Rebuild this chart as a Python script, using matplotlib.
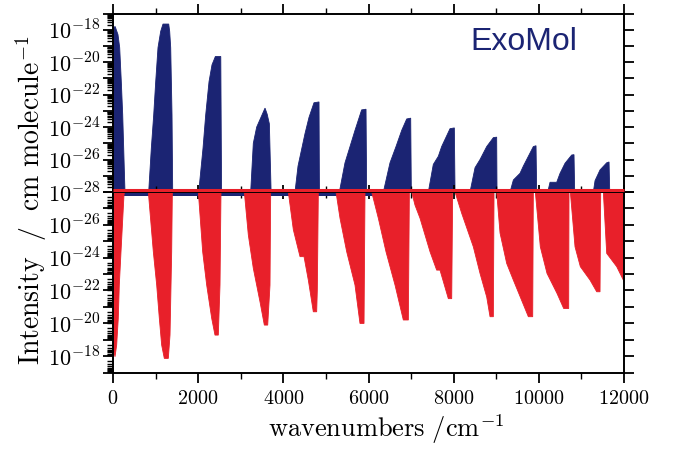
import numpy as np
import matplotlib
matplotlib.use("Agg")
import matplotlib.pyplot as plt
from matplotlib.ticker import FixedLocator, LogLocator, NullFormatter, FuncFormatter, MultipleLocator

plt.rcParams['mathtext.fontset'] = 'cm'

# ---------------- data: band envelopes (wavenumber, log10 intensity) ----------------
# top panel: ExoMol (blue)
exomol_x = [
    [0, 0, 50, 117, 157, 195, 228, 251, 274, 282],
    [838, 900, 956, 1003, 1057, 1120, 1174, 1308, 1331, 1355, 1386, 1402],
    [2013, 2114, 2177, 2255, 2325, 2404, 2531, 2550],
    [3233, 3295, 3374, 3570, 3620, 3672, 3713],
    [4274, 4345, 4509, 4603, 4720, 4838, 4848],
    [5316, 5448, 5566, 5683, 5839, 5942, 5957],
    [6349, 6505, 6646, 6780, 6897, 6991, 7006],
    [7405, 7522, 7640, 7718, 7914, 8016, 8032],
    [8384, 8502, 8619, 8776, 8932, 9010, 9018],
    [9324, 9402, 9558, 9637, 9715, 9871, 9934, 9950],
    [10209, 10263, 10420, 10498, 10615, 10772, 10826, 10842],
    [11085, 11085, 11203, 11203],
    [11280, 11320, 11437, 11594, 11649, 11665],
]
exomol_logI = [
    [-28, -17.9, -17.8, -18.3, -19.1, -21.2, -23.25, -25.3, -27.36, -28],
    [-28, -25.3, -23.25, -21.2, -19.1, -18.1, -17.65, -17.65, -18.1, -19.1, -23.25, -28],
    [-28, -25.3, -23.25, -21.2, -20.16, -19.65, -19.65, -28],
    [-28, -25.0, -24.0, -22.83, -23.2, -23.8, -28],
    [-28, -26.4, -24.4, -23.4, -22.5, -22.45, -28],
    [-28, -26.2, -25.2, -24.2, -22.94, -22.9, -28],
    [-28, -26.2, -25.2, -24.2, -23.5, -23.45, -28],
    [-28, -26.3, -25.8, -25.2, -24.1, -24.05, -28],
    [-28, -26.5, -26.0, -25.2, -24.65, -24.62, -28],
    [-28, -27.26, -26.85, -26.4, -26.0, -25.2, -25.15, -28],
    [-28, -27.4, -27.4, -26.85, -26.23, -25.72, -25.7, -28],
    [-28, -27.8, -27.8, -28],
    [-28, -27.3, -26.64, -26.2, -26.15, -28],
]

# bottom panel: comparison line list (red, inverted axis)
ref_x = [
    [0, 0, 47, 86, 124, 148, 188, 258, 270],
    [830, 947, 1026, 1088, 1143, 1205, 1299, 1339, 1378, 1393, 1395],
    [2004, 2106, 2200, 2318, 2395, 2473, 2513, 2536],
    [3084, 3178, 3295, 3452, 3554, 3633, 3687, 3703],
    [4117, 4235, 4392, 4486, 4587, 4704, 4783, 4798, 4822],
    [5237, 5331, 5488, 5683, 5800, 5895, 5918],
    [6075, 6231, 6411, 6623, 6818, 6936, 6960],
    [7014, 7092, 7210, 7445, 7601, 7679, 7875, 7954, 7977],
    [8032, 8189, 8462, 8619, 8776, 8854, 8932, 8948],
    [9010, 9089, 9245, 9402, 9754, 9856, 9871],
    [9918, 10035, 10192, 10427, 10584, 10701, 10709],
    [10740, 10850, 10975, 11203, 11359, 11437, 11453],
    [11515, 11594, 11829, 11985, 12000, 12000],
]
ref_logI = [
    [-28, -18.6, -17.96, -18.67, -20.3, -22.33, -24.36, -27.82, -28],
    [-28, -24.36, -22.33, -20.3, -18.67, -17.86, -17.86, -19.28, -24.36, -27.82, -28],
    [-28, -24.36, -22.33, -20.3, -19.28, -19.28, -22.33, -28],
    [-28, -25.38, -23.35, -21.31, -19.89, -19.89, -22.33, -28],
    [-28, -25.7, -24.06, -24.06, -22.63, -20.7, -20.7, -22.0, -28],
    [-28, -26.4, -24.36, -22.33, -19.99, -19.99, -28],
    [-28, -26.4, -24.36, -22.33, -20.2, -20.2, -28],
    [-28, -27.2, -26.4, -24.36, -23.24, -23.24, -21.5, -21.5, -28],
    [-28, -26.7, -24.66, -23.04, -21.6, -20.4, -20.4, -28],
    [-28, -25.5, -23.65, -22.63, -20.4, -20.4, -28],
    [-28, -24.66, -23.04, -21.82, -20.9, -20.9, -28],
    [-28, -24.66, -23.45, -22.63, -21.92, -21.92, -28],
    [-28, -24.26, -23.45, -22.63, -22.5, -28],
]

x_ticks = [0, 2000, 4000, 6000, 8000, 10000, 12000]
y_decades = list(range(-28, -16))

BLUE = '#1b2473'
RED = '#e8202a'

# ---------------- figure ----------------
fig = plt.figure(figsize=(6.81, 4.49), dpi=100)
L, R = 113 / 681, 624 / 681
y_top, y_mid, y_bot = 1 - 13.5 / 449, 1 - 192 / 449, 1 - 372.5 / 449
ax1 = fig.add_axes([L, y_mid, R - L, y_top - y_mid])
ax2 = fig.add_axes([L, y_bot, R - L, y_mid - y_bot], sharex=ax1)
ax2.set_zorder(ax1.get_zorder() + 1)

for xs, ls in zip(exomol_x, exomol_logI):
    ax1.fill(xs, 10.0 ** np.array(ls), color=BLUE, lw=0.6, ec=BLUE, zorder=2)

# blue baseline strip just below the 1e-28 line
ax2.fill_between([0, 6200], 1e-28, 10 ** -27.78, color=BLUE, lw=0, zorder=1)
for xs, ls in zip(ref_x, ref_logI):
    ax2.fill(xs, 10.0 ** np.array(ls), color=RED, lw=0.6, ec=RED, zorder=2)
# red baseline just above the 1e-28 line
ax2.plot([0, 12000], [10 ** -28.12] * 2, color=RED, lw=2.2, clip_on=False, zorder=3,
         solid_capstyle='butt')

ax1.set_yscale('log')
ax2.set_yscale('log')
ax1.set_ylim(1e-28, 1e-17)
ax2.set_ylim(1e-17, 1e-28)
ax1.set_xlim(0, 12000)


def fmt_top(v, pos):
    e = int(round(np.log10(v)))
    return r'$10^{%d}$' % e if e % 2 == 0 else ''


def fmt_bot(v, pos):
    e = int(round(np.log10(v)))
    return r'$10^{%d}$' % e if (e % 2 == 0 and e != -28) else ''


for ax, f in ((ax1, fmt_top), (ax2, fmt_bot)):
    ax.yaxis.set_major_locator(FixedLocator([10.0 ** d for d in y_decades]))
    ax.yaxis.set_major_formatter(FuncFormatter(f))
    ax.yaxis.set_minor_locator(LogLocator(base=10, subs=np.arange(2, 10), numticks=200))
    ax.yaxis.set_minor_formatter(NullFormatter())
    ax.tick_params(axis='y', which='major', direction='out', left=True, right=True,
                   length=7, width=1.3, labelsize=16, pad=2)
    ax.tick_params(axis='y', which='minor', direction='out', left=True, right=False,
                   length=4, width=1.0)
    for s in ax.spines.values():
        s.set_linewidth(1.4)
    ax.xaxis.set_major_locator(FixedLocator(x_ticks))
    ax.xaxis.set_minor_locator(MultipleLocator(1000))

ax1.tick_params(axis='x', which='both', direction='out', top=True, bottom=False,
                labeltop=False, labelbottom=False)
ax1.tick_params(axis='x', which='major', length=7, width=1.3)
ax1.tick_params(axis='x', which='minor', length=4, width=1.0)

ax2.tick_params(axis='x', which='both', direction='out', top=False, bottom=True,
                labelbottom=True, labelsize=14.5, pad=5)
ax2.tick_params(axis='x', which='major', length=7, width=1.3)
ax2.tick_params(axis='x', which='minor', length=4, width=1.0)
ax2.xaxis.set_major_formatter(FuncFormatter(lambda v, p: r'$%d$' % v))

sec = ax2.secondary_xaxis('top')
sec.xaxis.set_major_locator(FixedLocator(x_ticks))
sec.xaxis.set_minor_locator(MultipleLocator(1000))
sec.tick_params(axis='x', which='both', direction='inout', labeltop=False)
sec.tick_params(axis='x', which='major', length=10, width=1.3)
sec.tick_params(axis='x', which='minor', length=8, width=1.0)
sec.spines['top'].set_linewidth(1.4)

ax1.text(0.804, 0.84, 'ExoMol', transform=ax1.transAxes, color=BLUE,
         fontsize=23, family='Liberation Sans', ha='center', va='center')

fig.text(0.046, 0.555, r'$\mathrm{Intensity\ \ /\ \ cm\ molecule^{-1}}$', rotation=90,
         ha='center', va='center', fontsize=20)
fig.text(0.567, 0.045, r'$\mathrm{wavenumbers\ /cm^{-1}}$', ha='center', va='center',
         fontsize=19)

fig.savefig('out.png', dpi=100)
